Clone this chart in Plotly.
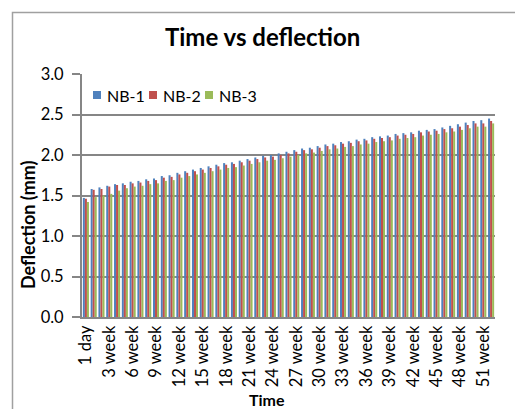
import plotly.graph_objects as go

# Time axis categories: 1 day, then weekly readings up to week 52
categories = ["1 day"] + [f"{w} week" for w in range(1, 53)]
tick_labels = [categories[i] for i in range(0, 53, 3)]

nb1 = [1.47, 1.58, 1.60, 1.62, 1.64, 1.65, 1.67, 1.68, 1.70, 1.71,
       1.74, 1.75, 1.78, 1.80, 1.82, 1.84, 1.86, 1.88, 1.90, 1.91,
       1.93, 1.95, 1.97, 1.99, 2.00, 2.02, 2.04, 2.06, 2.08, 2.09,
       2.11, 2.13, 2.14, 2.16, 2.17, 2.19, 2.20, 2.22, 2.23, 2.24,
       2.26, 2.27, 2.28, 2.30, 2.31, 2.32, 2.34, 2.36, 2.38, 2.40,
       2.42, 2.43, 2.45]
nb2 = [1.46, 1.57, 1.58, 1.61, 1.63, 1.63, 1.65, 1.66, 1.68, 1.69,
       1.72, 1.73, 1.76, 1.78, 1.80, 1.82, 1.84, 1.86, 1.88, 1.89,
       1.91, 1.93, 1.95, 1.97, 1.98, 2.00, 2.02, 2.04, 2.06, 2.07,
       2.09, 2.11, 2.12, 2.14, 2.15, 2.17, 2.18, 2.20, 2.21, 2.22,
       2.24, 2.25, 2.26, 2.28, 2.29, 2.30, 2.32, 2.33, 2.35, 2.37,
       2.39, 2.39, 2.42]
nb3 = [1.42, 1.48, 1.50, 1.52, 1.56, 1.59, 1.61, 1.62, 1.64, 1.65,
       1.68, 1.69, 1.72, 1.74, 1.76, 1.78, 1.80, 1.82, 1.84, 1.85,
       1.87, 1.89, 1.91, 1.93, 1.94, 1.96, 1.98, 2.00, 2.02, 2.03,
       2.05, 2.07, 2.08, 2.10, 2.11, 2.13, 2.14, 2.16, 2.17, 2.18,
       2.20, 2.21, 2.22, 2.24, 2.25, 2.26, 2.28, 2.29, 2.31, 2.33,
       2.35, 2.35, 2.39]

series_names = ["NB-1", "NB-2", "NB-3"]
series_values = [nb1, nb2, nb3]
series_colors = ["#4F81BD", "#C0504D", "#9BBB59"]

font_family = "Lato, Carlito, Calibri, sans-serif"

W, H = 515, 409
ml, mr, mt, mb = 82, 20, 74, 92
pw, ph = W - ml - mr, H - mt - mb


def px_x(x):
    return (x - ml) / pw


def px_y(y):
    return (mt + ph - y) / ph


fig = go.Figure()
for name, vals, color in zip(series_names, series_values, series_colors):
    fig.add_trace(go.Bar(x=categories, y=vals, name=name, showlegend=False,
                         marker=dict(color=color, line=dict(width=0))))

fig.update_layout(
    width=W, height=H,
    margin=dict(l=ml, r=mr, t=mt, b=mb, autoexpand=False),
    paper_bgcolor="white", plot_bgcolor="white",
    barmode="group", bargap=0.22, bargroupgap=0,
    font=dict(family=font_family, color="black"),
    title=dict(text="<b>Time vs deflection</b>", x=0.51, xref="container",
               xanchor="center", y=1 - 38 / H, yanchor="middle",
               font=dict(size=24)),
    showlegend=False,
    xaxis=dict(
        type="category", categoryorder="array", categoryarray=categories,
        tickmode="array", tickvals=tick_labels, ticktext=tick_labels,
        tickangle=-90, tickfont=dict(size=16.5), automargin=False,
        showline=True, linecolor="#868686", linewidth=2,
        ticks="", showgrid=False,
    ),
    yaxis=dict(
        range=[0, 3.0], tickmode="array", tickvals=[0, 0.5, 1.0, 1.5, 2.0, 2.5, 3.0],
        tickformat=".1f", tickfont=dict(size=16.5), automargin=False,
        showgrid=True, gridcolor="#868686", gridwidth=2,
        showline=True, linecolor="#868686", linewidth=2,
        ticks="outside", ticklen=8, tickcolor="#868686", tickwidth=1.5,
        ticklabelstandoff=5,
        zeroline=False,
    ),
)

# Axis titles
fig.add_annotation(text="<b>Time</b>", xref="paper", yref="paper",
                   x=px_x(267), y=px_y(399), xanchor="center", yanchor="middle",
                   showarrow=False, font=dict(size=16, color="black"))
fig.add_annotation(text="<b>Deflection (mm)</b>", xref="paper", yref="paper",
                   x=px_x(28), y=px_y(225), xanchor="center", yanchor="middle",
                   textangle=-90, showarrow=False, font=dict(size=18, color="black"))

# Legend drawn inside the plot area: coloured square plus series name
legend_x = [93, 149, 205]
legend_y = 95
for name, color, lx in zip(series_names, series_colors, legend_x):
    fig.add_shape(type="rect", xref="paper", yref="paper",
                  x0=px_x(lx), x1=px_x(lx + 8), y0=px_y(legend_y + 4), y1=px_y(legend_y - 4),
                  line=dict(width=0), fillcolor=color)
    fig.add_annotation(text=name, xref="paper", yref="paper",
                       x=px_x(lx + 12), y=px_y(legend_y), xanchor="left", yanchor="middle",
                       showarrow=False, font=dict(size=16, color="black"))

# Chart frame border
fig.add_shape(type="rect", xref="paper", yref="paper",
              x0=px_x(12.5), x1=px_x(W + 20), y0=px_y(H + 20), y1=px_y(12.5),
              line=dict(color="#A0A0A0", width=1.5), fillcolor="rgba(0,0,0,0)",
              layer="below")

fig.write_html("out.html")
